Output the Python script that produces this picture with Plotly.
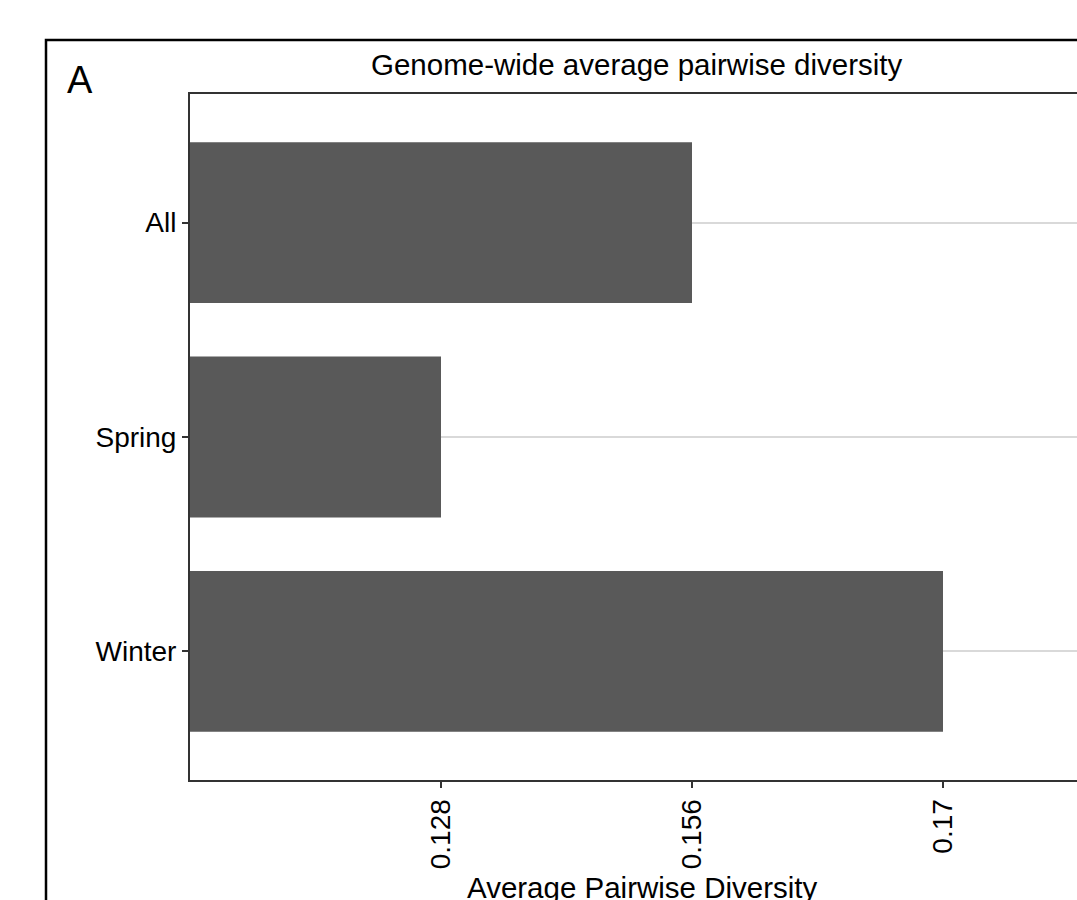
import plotly.graph_objects as go

categories = ["All", "Spring", "Winter"]
diversity = [0.156, 0.128, 0.17]
title_text = "Genome-wide average pairwise diversity"
x_title = "Average Pairwise Diversity"
panel_label = "A"

# ordinal x scale: each distinct value is one step
uniq = sorted(set(diversity))
rank = {v: i + 1 for i, v in enumerate(uniq)}
xpos = [rank[v] for v in diversity]
tick_text = [str(v) for v in uniq]
tick_vals = [rank[v] for v in uniq]

W, H = 1077, 900
L, R, T, B = 190, 0, 94, 120
FONT = "Liberation Sans, Arial, sans-serif"
PW, PH = W - L - R, H - T - B

fig = go.Figure(go.Bar(
    y=categories, x=xpos, orientation="h",
    marker=dict(color="#595959", line=dict(width=0)),
    width=0.75,
))

fig.update_layout(
    width=W, height=H,
    margin=dict(l=L, r=R, t=T, b=B, pad=0),
    paper_bgcolor="white", plot_bgcolor="white",
    showlegend=False,
    font=dict(family=FONT, color="black"),
)
fig.update_xaxes(
    range=[0, PW / 251], tickvals=tick_vals, ticktext=tick_text,
    tickangle=-90, ticks="outside", ticklen=6, tickwidth=2, tickcolor="#333333",
    tickfont=dict(size=28, family=FONT, color="black"),
    showline=True, linecolor="#333333", linewidth=2, mirror=True,
    showgrid=False, zeroline=False,
)
fig.update_yaxes(
    categoryorder="array", categoryarray=categories[::-1],
    range=[-0.6, 2.6],
    ticks="outside", ticklen=6, tickwidth=2, tickcolor="#333333",
    tickfont=dict(size=28, family=FONT, color="black"),
    showline=True, linecolor="#333333", linewidth=2,
    showgrid=True, gridcolor="#d9d9d9", gridwidth=2, zeroline=False,
)

def fx(p):
    return (p - L) / PW
def fy(p):
    return (H - B - p) / PH

fig.add_shape(type="rect", xref="paper", yref="paper",
              x0=fx(46), x1=fx(W + 30), y0=fy(H + 30), y1=fy(40),
              line=dict(color="black", width=2.5), layer="above")

fig.add_annotation(text=panel_label, xref="paper", yref="paper",
                   x=fx(80), y=fy(80), xanchor="center", yanchor="middle",
                   showarrow=False, font=dict(size=38, family=FONT, color="black"))
fig.add_annotation(text=title_text, xref="paper", yref="paper",
                   x=fx(636), y=fy(65), xanchor="center", yanchor="middle",
                   showarrow=False, font=dict(size=29.5, family=FONT, color="black"))
fig.add_annotation(text=x_title, xref="paper", yref="paper",
                   x=fx(642), y=fy(887), xanchor="center", yanchor="middle",
                   showarrow=False, font=dict(size=29.5, family=FONT, color="black"))

fig.write_html("out.html", config={"displayModeBar": False},
               post_script="document.body.style.margin='0';")
